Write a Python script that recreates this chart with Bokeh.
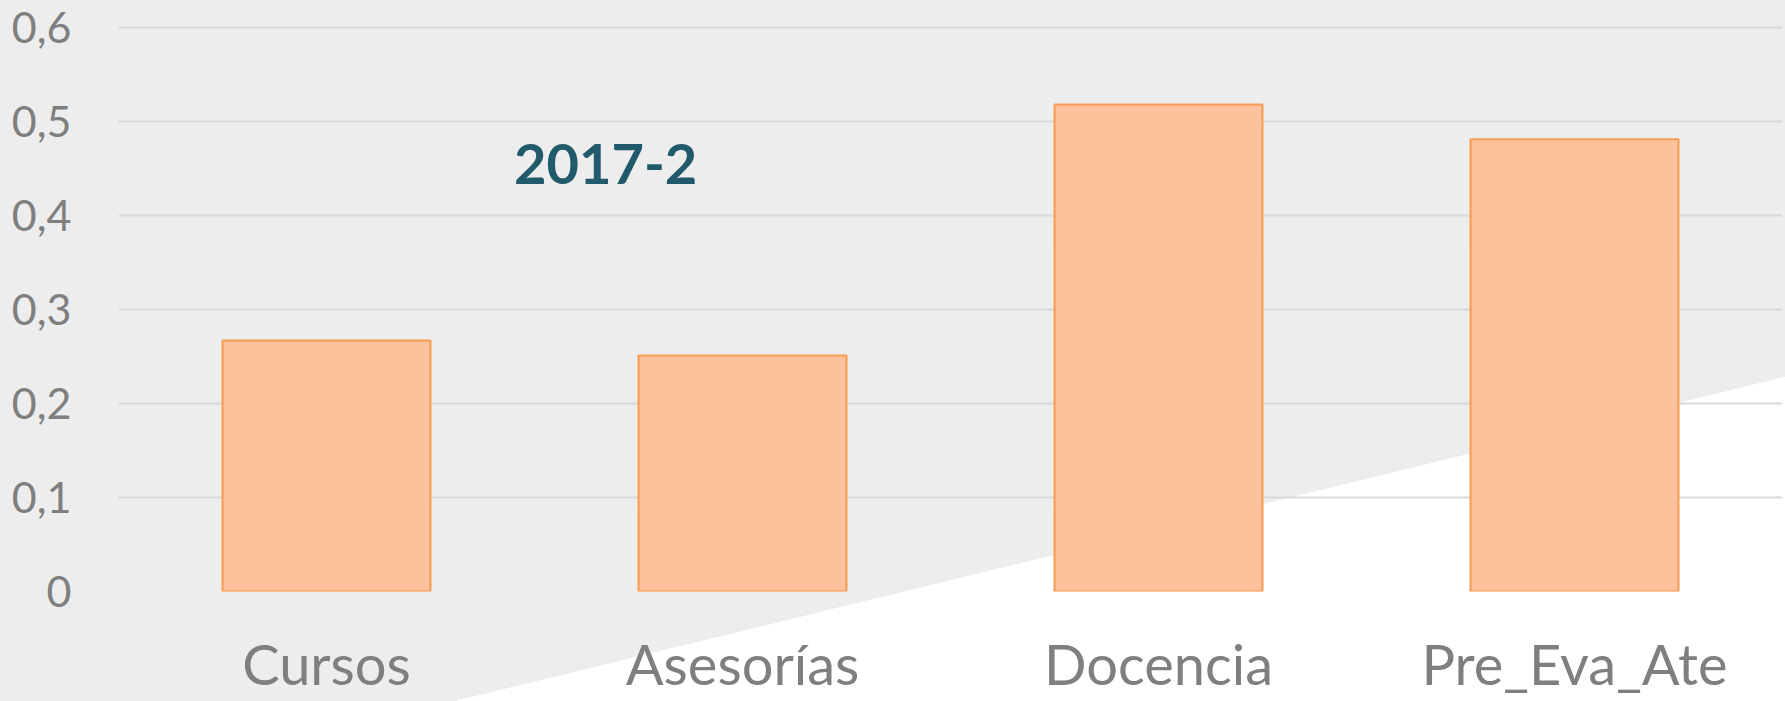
from bokeh.plotting import figure
from bokeh.models import ColumnDataSource, FixedTicker, CustomJSTickFormatter, Label
from bokeh.embed import file_html
from bokeh.resources import INLINE

categories = ["Cursos", "Asesorías", "Docencia", "Pre_Eva_Ate"]
values = [0.267, 0.251, 0.518, 0.481]
y_ticks = [0, 0.1, 0.2, 0.3, 0.4, 0.5, 0.6]
title_text = "2017-2"

FONT = "Lato"

p = figure(x_range=categories, y_range=(0, 0.602), width=1785, height=701,
           output_backend="svg", toolbar_location=None,
           min_border_left=118, min_border_right=3, min_border_top=25, min_border_bottom=110)
# transparent canvas; page-level background: grey with a white diagonal wedge at the lower right
p.background_fill_color = None
p.border_fill_color = None
p.outline_line_color = None
p.styles = {"background": "linear-gradient(166.3deg, #ECEDEC 788.8px, #FFFFFF 788.8px)"}

src = ColumnDataSource(dict(cat=categories, val=values))
p.vbar(x="cat", top="val", width=0.5, source=src,
       fill_color="#FDC19C", line_color="#F79646", line_width=2, line_alpha=0.9)

p.xgrid.grid_line_color = None
p.ygrid.grid_line_color = "#D9D9D9"
p.ygrid.grid_line_width = 2

p.yaxis.ticker = FixedTicker(ticks=y_ticks)
p.yaxis.formatter = CustomJSTickFormatter(code="return tick === 0 ? '0' : tick.toFixed(1).replace('.', ',');")
for ax in (p.xaxis[0], p.yaxis[0]):
    ax.axis_line_color = None
    ax.major_tick_line_color = None
    ax.minor_tick_line_color = None
    ax.major_tick_out = 0
    ax.major_tick_in = 0
    ax.major_label_text_color = "#7F7F7F"
    ax.major_label_text_font = FONT
p.yaxis.major_label_text_font_size = "43px"
p.yaxis.major_label_standoff = 47
p.xaxis.major_label_text_font_size = "56px"
p.xaxis.major_label_standoff = 38

lab = Label(x=1.171, y=0.455, text=title_text, text_align="center", text_baseline="alphabetic",
            text_font=FONT, text_font_style="bold", text_font_size="56px", text_color="#215A6A")
p.add_layout(lab)

open("out.html", "w").write(file_html(p, INLINE))
